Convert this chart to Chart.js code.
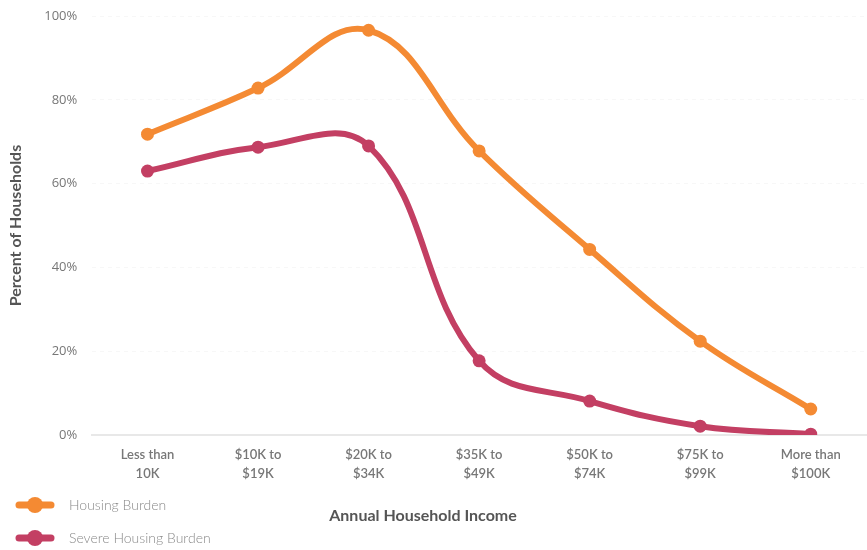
<!DOCTYPE html>
<html>
<head>
<meta charset="utf-8">
<script src="https://cdn.jsdelivr.net/npm/chart.js@4/dist/chart.umd.min.js"></script>
<style>
html,body{margin:0;padding:0;background:#fff;}
#wrap{position:relative;width:867px;height:550px;}
</style>
</head>
<body>
<div id="wrap"><canvas id="c" width="867" height="550"></canvas></div>
<script>
const categories = [["Less than","10K"],["$10K to","$19K"],["$20K to","$34K"],["$35K to","$49K"],["$50K to","$74K"],["$75K to","$99K"],["More than","$100K"]];
const housingBurden = [71.8, 82.8, 96.6, 67.8, 44.3, 22.4, 6.2];
const severeHousingBurden = [63.0, 68.7, 69.0, 17.7, 8.1, 2.1, 0.2];
const yTicks = [0, 20, 40, 60, 80, 100];
const seriesNames = ["Housing Burden", "Severe Housing Burden"];
const seriesColors = ["#f48a33", "#c33f63"];
const xTitle = "Annual Household Income";

function legendIcon(color){
  const c = document.createElement('canvas');
  c.width = 40; c.height = 20;
  const x = c.getContext('2d');
  x.strokeStyle = color; x.lineWidth = 7; x.lineCap = 'round';
  x.beginPath(); x.moveTo(4,10); x.lineTo(36,10); x.stroke();
  x.fillStyle = color;
  x.beginPath(); x.arc(20,10,8,0,Math.PI*2); x.fill();
  return c;
}

const legendPlugin = {
  id: 'customLegend',
  afterDraw(chart){
    const ctx = chart.ctx;
    ctx.save();
    const ys = [505, 538];
    chart.data.datasets.forEach((ds,i)=>{
      const icon = legendIcon(ds.borderColor);
      ctx.drawImage(icon, 15, ys[i]-10);
      ctx.fillStyle = '#8a8a8a';
      ctx.font = '300 14px Lato, "Open Sans", sans-serif';
      ctx.textBaseline = 'middle';
      ctx.textAlign = 'left';
      ctx.fillText(ds.label, 69, ys[i]);
    });
    ctx.fillStyle = '#555';
    ctx.font = 'bold 16px Lato, "Open Sans", sans-serif';
    ctx.textAlign = 'center';
    ctx.textBaseline = 'middle';
    ctx.fillText(xTitle, 423, 516);
    ctx.restore();
  }
};

new Chart(document.getElementById('c'), {
  type: 'line',
  data: {
    labels: categories,
    datasets: [
      {label: seriesNames[0], data: housingBurden, borderColor: seriesColors[0], backgroundColor: seriesColors[0],
       borderWidth: 6, pointRadius: 6.5, pointBackgroundColor: seriesColors[0], pointBorderWidth: 0, tension: 0.4, fill: false},
      {label: seriesNames[1], data: severeHousingBurden, borderColor: seriesColors[1], backgroundColor: seriesColors[1],
       borderWidth: 6, pointRadius: 6.5, pointBackgroundColor: seriesColors[1], pointBorderWidth: 0, tension: 0.4, fill: false}
    ]
  },
  options: {
    responsive: false,
    animation: false,
    layout: {autoPadding: false, padding: {top: 16, right: 1, left: 6, bottom: 56}},
    plugins: {legend: {display: false}, tooltip: {enabled: false}},
    scales: {
      x: {
        offset: true,
        afterFit(s){ s.paddingLeft = 0; s.paddingRight = 0; },
        grid: {display: false, drawTicks: false},
        border: {display: true, color: '#e8e8e8', width: 2},
        ticks: {color: '#777', font: {family: 'Lato, "Open Sans", sans-serif', size: 13, weight: '600', lineHeight: 1.5}, padding: 10, maxRotation: 0, autoSkip: false},
        title: {display: false}
      },
      y: {
        min: 0, max: 100,
        afterFit(s){ s.paddingTop = 0; s.paddingBottom = 0; },
        afterBuildTicks(scale){ scale.ticks = yTicks.map(v=>({value:v})); },
        grid: {color: '#f7f7f7', drawTicks: false},
        border: {display: false, dash: [4,4]},
        ticks: {color: '#777', font: {family: '"Open Sans", Lato, sans-serif', size: 13}, padding: 15, callback: v => v + '%'},
        title: {display: true, text: 'Percent of Households', color: '#555', font: {family: 'Lato, "Open Sans", sans-serif', size: 16, weight: 'bold'}, padding: {top: 0, bottom: 4}}
      }
    }
  },
  plugins: [legendPlugin]
});
</script>
</body>
</html>
